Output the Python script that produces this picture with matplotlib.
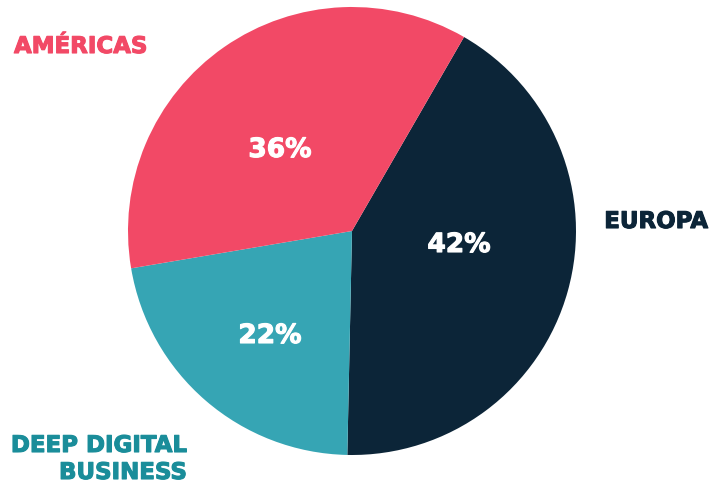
import matplotlib
matplotlib.use("Agg")
import matplotlib.pyplot as plt
import matplotlib.patheffects as pe

categories = ["EUROPA", "DEEP DIGITAL\nBUSINESS", "AMÉRICAS"]
values = [42, 22, 36]
slice_colors = ["#0C2538", "#36A5B4", "#F24966"]
label_colors = ["#0C2538", "#1A8D9A", "#F24966"]

W, H = 712, 483
fig = plt.figure(figsize=(W / 100, H / 100), dpi=100)
cx, cy, r = 352, 231, 224
ax = fig.add_axes([(cx - r) / W, (H - cy - r) / H, 2 * r / W, 2 * r / H])
wedges, _ = ax.pie(values, colors=slice_colors, startangle=60, counterclock=False,
                   radius=1, wedgeprops=dict(linewidth=0))
ax.set_xlim(-1, 1)
ax.set_ylim(-1, 1)
ax.set_aspect("equal")
ax.axis("off")

font = dict(family="DejaVu Sans", weight="bold")

def px(x, y):
    return x / W, 1 - y / H

def bold_fx(c):
    return [pe.withStroke(linewidth=0.8, foreground=c)]

# category labels
fig.text(*px(14, 53), categories[2], color=label_colors[2], fontsize=16.5, ha="left",
         va="baseline", path_effects=bold_fx(label_colors[2]), **font)
fig.text(*px(708, 228), categories[0], color=label_colors[0], fontsize=16.5, ha="right",
         va="baseline", path_effects=bold_fx(label_colors[0]), **font)
l1, l2 = categories[1].split("\n")
fig.text(*px(187, 452), l1, color=label_colors[1], fontsize=16.5, ha="right",
         va="baseline", path_effects=bold_fx(label_colors[1]), **font)
fig.text(*px(187, 479), l2, color=label_colors[1], fontsize=16.5, ha="right",
         va="baseline", path_effects=bold_fx(label_colors[1]), **font)

# percentages
pct_pos = [(459, 252), (270, 343), (280, 157)]
for v, (x, y) in zip(values, pct_pos):
    fig.text(*px(x, y), f"{v}%", color="white", fontsize=19, ha="center", va="baseline",
             path_effects=bold_fx("white"), **font)

fig.savefig("out.png", dpi=100, facecolor="white")
